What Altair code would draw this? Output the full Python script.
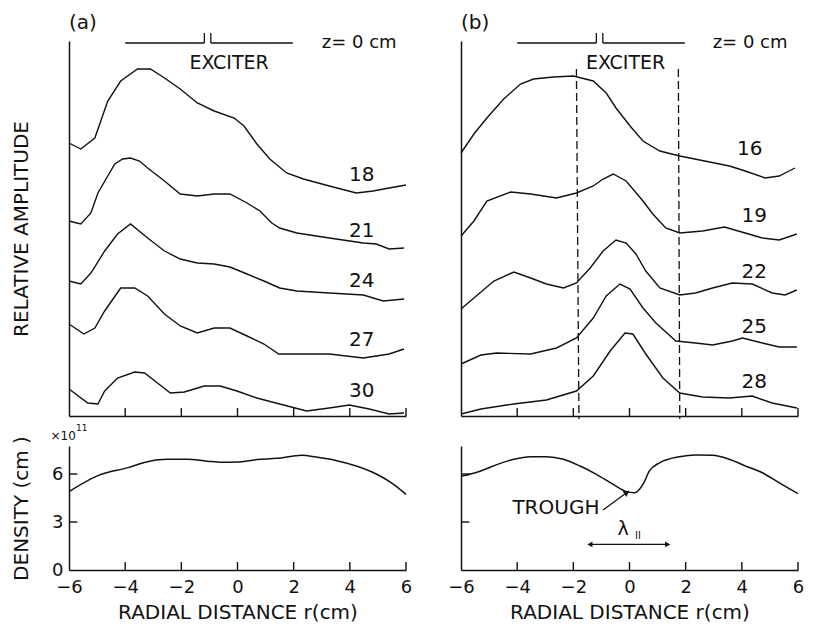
import altair as alt
import pandas as pd

FONT = "DejaVu Sans"
INK = "#111111"

R_MIN, R_MAX = -6, 6
AMP_MAX = 375      # relative amplitude, arbitrary units
DEN_MAX = 7.75     # density, 1e11 cm^-3
X_TICKS = [-6, -4, -2, 0, 2, 4, 6]
Y_TICKS_DEN = [0, 3, 6]

# ---------------- panel (a): amplitude traces ----------------
a_z = ["18", "21", "24", "27", "30"]
a18_r = [-6.00, -5.58, -5.08, -4.62, -4.16, -3.56, -3.10, -2.60, -2.04, -1.43, -0.83, -0.12, 0.23, 0.69, 1.15, 1.75, 2.35, 3.27, 4.23, 4.83, 5.40, 6.00]
a18_v = [273, 267, 278, 315, 335, 347, 347, 338, 327, 313, 305, 298, 290, 272, 257, 243, 237, 230, 223, 225, 228, 231]
a21_r = [-6.00, -5.58, -5.22, -4.97, -4.62, -4.37, -4.09, -3.81, -3.49, -3.20, -2.60, -2.04, -1.43, -0.83, -0.27, 0.34, 0.80, 1.22, 1.50, 2.11, 3.27, 4.48, 4.94, 5.40, 5.93]
a21_v = [195, 192, 203, 223, 240, 252, 257, 258, 255, 248, 235, 222, 220, 222, 222, 213, 205, 193, 188, 183, 178, 173, 172, 167, 168]
a24_r = [-6.00, -5.58, -5.22, -4.73, -4.27, -3.81, -3.20, -2.60, -2.04, -1.43, -0.83, -0.27, 0.34, 0.94, 1.50, 2.11, 3.27, 4.48, 5.19, 5.93]
a24_v = [135, 132, 143, 165, 182, 192, 178, 165, 157, 153, 152, 149, 142, 135, 128, 125, 123, 121, 115, 117]
a27_r = [-6.00, -5.47, -5.08, -4.73, -4.16, -3.66, -3.20, -2.60, -2.04, -1.43, -0.83, -0.27, 0.34, 0.94, 1.47, 2.11, 3.27, 4.48, 5.40, 5.93]
a27_v = [92, 82, 88, 105, 128, 128, 120, 102, 90, 83, 88, 88, 80, 72, 62, 62, 62, 58, 62, 67]
a30_r = [-6.00, -5.33, -4.97, -4.73, -4.27, -3.66, -3.31, -2.85, -2.39, -1.89, -1.19, -0.62, -0.02, 0.69, 1.50, 2.46, 3.27, 3.98, 4.69, 5.40, 5.93]
a30_v = [27, 13, 12, 25, 38, 44, 43, 33, 23, 24, 30, 30, 25, 18, 12, 5, 8, 11, 7, 2, 3]
a_label_r = [4.42, 4.42, 4.42, 4.42, 4.42]
a_label_v = [241, 185, 135, 76, 25]

# ---------------- panel (b): amplitude traces ----------------
b_z = ["16", "19", "22", "25", "28"]
b16_r = [-6.00, -5.54, -5.08, -4.48, -3.88, -3.42, -2.71, -2.00, -1.29, -0.83, -0.48, 0.02, 0.48, 1.08, 1.79, 2.50, 3.56, 4.12, 4.83, 5.33, 5.89]
b16_v = [263, 282, 298, 317, 332, 337, 339, 340, 335, 323, 308, 290, 275, 265, 260, 256, 250, 245, 238, 240, 248]
b19_r = [-6.00, -5.54, -5.08, -4.23, -3.52, -2.60, -1.89, -1.29, -0.94, -0.58, -0.12, 0.48, 0.83, 1.29, 1.79, 2.60, 3.38, 4.12, 4.73, 5.33, 5.96]
b19_v = [180, 195, 215, 224, 222, 218, 223, 230, 237, 242, 235, 215, 202, 188, 183, 185, 189, 183, 178, 176, 182]
b22_r = [-6.00, -5.54, -4.83, -4.12, -3.52, -2.96, -2.35, -1.89, -1.40, -0.94, -0.48, -0.12, 0.23, 0.58, 1.08, 1.79, 2.35, 2.96, 3.66, 4.37, 5.08, 5.54, 5.96]
b22_v = [107, 118, 135, 144, 138, 132, 128, 133, 148, 165, 176, 173, 162, 145, 128, 121, 123, 128, 133, 132, 123, 121, 126]
b25_r = [-6.00, -5.29, -4.73, -3.52, -2.60, -1.89, -1.29, -0.83, -0.34, 0.02, 0.48, 0.94, 1.65, 2.35, 2.96, 3.66, 4.02, 4.73, 5.33, 5.96]
b25_v = [52, 61, 63, 62, 68, 78, 98, 120, 132, 127, 108, 93, 75, 73, 71, 75, 78, 73, 69, 69]
b28_r = [-6.00, -5.29, -4.12, -2.96, -1.89, -1.29, -0.69, -0.16, 0.12, 0.58, 1.19, 1.79, 2.60, 3.56, 4.37, 5.08, 5.96]
b28_v = [2, 7, 12, 16, 25, 40, 65, 83, 82, 62, 38, 23, 19, 18, 20, 13, 8]
b_label_r = [4.28, 4.44, 4.44, 4.44, 4.44]
b_label_v = [267, 200, 144, 89, 34]

# ---------------- density profiles ----------------
a_den_r = [-6.0, -4.97, -3.9, -3.2, -2.5, -1.8, -1.08, -0.55, 0.0, 0.7, 1.4, 2.3, 2.8, 3.5, 4.23, 4.94, 5.47, 6.0]
a_den_v = [4.9, 5.9, 6.4, 6.77, 6.92, 6.92, 6.8, 6.73, 6.75, 6.9, 6.98, 7.17, 7.06, 6.85, 6.5, 6.0, 5.46, 4.73]
b_den_r = [-6.0, -5.3, -4.7, -4.12, -3.53, -2.95, -2.35, -1.76, -1.18, -0.58, -0.11, 0.18, 0.48, 0.71, 1.07, 1.78, 2.36, 2.96, 3.55, 4.13, 4.73, 5.32, 6.0]
b_den_v = [5.85, 6.19, 6.6, 6.92, 7.08, 7.08, 6.92, 6.5, 5.98, 5.35, 4.9, 4.83, 5.35, 6.19, 6.7, 7.08, 7.19, 7.17, 6.92, 6.5, 6.08, 5.46, 4.77]

# ---------------- annotations (data coordinates) ----------------
EXCITER_R = [-4.0, -1.18, -0.95, 1.97]       # bracket edges / notch
EXCITER_V = [373, 383]                        # bracket level, notch top
DASH_R_TOP = [-1.89, 1.74]
DASH_R_BOT = [-1.80, 1.79]
DASH_V = [347, -3]
TROUGH_ARROW = [-0.94, 3.75, -0.12, 4.81]
LAMBDA_ARROW = [-1.41, 1.36, 1.6]

PANEL_W = 337


def make_df(rs, vs, labels):
    rows = []
    for r_list, v_list, lab in zip(rs, vs, labels):
        for r, v in zip(r_list, v_list):
            rows.append({"r": r, "v": v, "z": lab})
    return pd.DataFrame(rows)


def X(axis):
    return alt.X("r:Q", scale=alt.Scale(domain=[R_MIN, R_MAX], nice=False, zero=False), axis=axis)


def Y(domain, axis):
    return alt.Y("v:Q", scale=alt.Scale(domain=domain, nice=False, zero=False), axis=axis)


TOP_X_AXIS = alt.Axis(labels=False, ticks=False, title=None, grid=False, domain=True)
BOT_X_AXIS = alt.Axis(values=X_TICKS, ticks=False, grid=False, labelPadding=8, labelFlush=False,
                      title="RADIAL DISTANCE r(cm)", titlePadding=6)


def top_panel(traces_r, traces_v, zs, lab_r, lab_v, tag, exc_r, zt_r, title, dashed):
    yaxis = alt.Axis(labels=False, ticks=False, grid=False, domain=True,
                     title=title, titlePadding=38) if title else \
        alt.Axis(labels=False, ticks=False, grid=False, domain=True, title=None)
    xx = X(TOP_X_AXIS)
    yy = Y([0, AMP_MAX], yaxis)
    df = make_df(traces_r, traces_v, zs)
    lines = alt.Chart(df).mark_line(color=INK, strokeWidth=1.4).encode(
        x=xx, y=yy, detail="z:N")
    tick_df = pd.DataFrame({"r": X_TICKS[1:], "v": [0] * 6, "v2": [8] * 6})
    ticks = alt.Chart(tick_df).mark_rule(color=INK, strokeWidth=1.4).encode(
        x=xx, y=yy, y2="v2")
    e = EXCITER_R
    lo, hi = EXCITER_V
    br_df = pd.DataFrame({"r": [e[0], e[1], e[2], e[2]], "r2": [e[1], e[1], e[2], e[3]],
                          "v": [lo, lo, hi, lo], "v2": [lo, hi, lo, lo]})
    bracket = alt.Chart(br_df).mark_rule(color=INK, strokeWidth=1.3).encode(
        x=xx, x2="r2", y=yy, y2="v2")
    lab_df = pd.DataFrame({"r": lab_r, "v": lab_v, "t": zs})
    labels = alt.Chart(lab_df).mark_text(font=FONT, fontSize=20, color=INK).encode(
        x=xx, y=yy, text="t")
    exc = alt.Chart(pd.DataFrame({"r": [exc_r], "v": [353], "t": ["EXCITER"]})).mark_text(
        font=FONT, fontSize=19, color=INK).encode(x=xx, y=yy, text="t")
    zt = alt.Chart(pd.DataFrame({"r": [zt_r], "v": [373], "t": ["z= 0 cm"]})).mark_text(
        font=FONT, fontSize=18, color=INK, align="left").encode(x=xx, y=yy, text="t")
    tg = alt.Chart(pd.DataFrame({"r": [-6.0], "v": [393], "t": [tag]})).mark_text(
        font=FONT, fontSize=20, color=INK, align="left").encode(x=xx, y=yy, text="t")
    layers = [lines, ticks, bracket, labels, exc, zt, tg]
    if dashed:
        d_df = pd.DataFrame({"r": DASH_R_TOP, "r2": DASH_R_BOT,
                             "v": [DASH_V[0]] * 2, "v2": [DASH_V[1]] * 2})
        layers.append(alt.Chart(d_df).mark_rule(color=INK, strokeWidth=1.3, strokeDash=[8, 4]).encode(
            x=xx, x2="r2", y=yy, y2="v2"))
    return alt.layer(*layers).properties(width=PANEL_W, height=375)


def bottom_panel(den_r, den_v, left, trough):
    if left:
        yaxis = alt.Axis(values=Y_TICKS_DEN, ticks=False, grid=False, labelPadding=6,
                         title="DENSITY (cm )", titlePadding=20)
    else:
        yaxis = alt.Axis(labels=False, ticks=False, grid=False, title=None)
    xx = X(BOT_X_AXIS)
    yy = Y([0, DEN_MAX], yaxis)
    df = pd.DataFrame({"r": den_r, "v": den_v})
    line = alt.Chart(df).mark_line(color=INK, strokeWidth=1.5, interpolate="monotone").encode(x=xx, y=yy)
    tick_df = pd.DataFrame({"r": X_TICKS[1:], "v": [0] * 6, "v2": [0.5] * 6})
    ticks = alt.Chart(tick_df).mark_rule(color=INK, strokeWidth=1.4).encode(x=xx, y=yy, y2="v2")
    ytick_df = pd.DataFrame({"r": [-6, -6], "r2": [-5.7, -5.7], "v": [3, 6]})
    yticks = alt.Chart(ytick_df).mark_rule(color=INK, strokeWidth=1.4).encode(x=xx, x2="r2", y=yy)
    layers = [line, ticks, yticks]
    if left:
        layers.append(alt.Chart(pd.DataFrame({"r": [-6.21], "v": [8.4], "t": ["×10"]})).mark_text(
            font=FONT, fontSize=12, color=INK).encode(x=xx, y=yy, text="t"))
        layers.append(alt.Chart(pd.DataFrame({"r": [-5.55], "v": [8.85], "t": ["11"]})).mark_text(
            font=FONT, fontSize=9, color=INK).encode(x=xx, y=yy, text="t"))
    if trough:
        x0, y0, x1, y1 = TROUGH_ARROW
        layers.append(alt.Chart(pd.DataFrame({"r": [-2.62], "v": [3.88], "t": ["TROUGH"]})).mark_text(
            font=FONT, fontSize=20, color=INK).encode(x=xx, y=yy, text="t"))
        layers.append(alt.Chart(pd.DataFrame({"r": [x0], "r2": [x1], "v": [y0], "v2": [y1]})).mark_rule(
            color=INK, strokeWidth=1.3).encode(x=xx, x2="r2", y=yy, y2="v2"))
        layers.append(alt.Chart(pd.DataFrame({"r": [x1], "v": [y1]})).mark_point(
            shape="triangle", filled=True, size=45, angle=54, color=INK, opacity=1).encode(x=xx, y=yy))
        la, lb, lv = LAMBDA_ARROW
        layers.append(alt.Chart(pd.DataFrame({"r": [la], "r2": [lb], "v": [lv]})).mark_rule(
            color=INK, strokeWidth=1.3).encode(x=xx, x2="r2", y=yy))
        layers.append(alt.Chart(pd.DataFrame({"r": [la], "v": [lv]})).mark_point(
            shape="triangle-left", filled=True, size=35, color=INK, opacity=1).encode(x=xx, y=yy))
        layers.append(alt.Chart(pd.DataFrame({"r": [lb], "v": [lv]})).mark_point(
            shape="triangle-right", filled=True, size=35, color=INK, opacity=1).encode(x=xx, y=yy))
        layers.append(alt.Chart(pd.DataFrame({"r": [-0.23], "v": [2.56], "t": ["λ"]})).mark_text(
            font=FONT, fontSize=19, color=INK).encode(x=xx, y=yy, text="t"))
        layers.append(alt.Chart(pd.DataFrame({"r": [0.3], "v": [2.12], "t": ["II"]})).mark_text(
            font=FONT, fontSize=10, color=INK).encode(x=xx, y=yy, text="t"))
    return alt.layer(*layers).properties(width=PANEL_W, height=124)


top_a = top_panel([a18_r, a21_r, a24_r, a27_r, a30_r], [a18_v, a21_v, a24_v, a27_v, a30_v], a_z,
                  a_label_r, a_label_v, "(a)", -0.3, 3.0, "RELATIVE AMPLITUDE", False)
top_b = top_panel([b16_r, b19_r, b22_r, b25_r, b28_r], [b16_v, b19_v, b22_v, b25_v, b28_v], b_z,
                  b_label_r, b_label_v, "(b)", -0.14, 2.96, None, True)
bot_a = bottom_panel(a_den_r, a_den_v, True, False)
bot_b = bottom_panel(b_den_r, b_den_v, False, True)

chart = alt.concat(top_a, top_b, bot_a, bot_b, columns=2,
                   spacing={"row": 30, "column": 55}, bounds="flush").properties(
    padding={"left": 3, "top": 4, "right": 0, "bottom": 0}
).configure_view(stroke=None).configure_axis(
    domainColor=INK, domainWidth=1.5, labelColor=INK, titleColor=INK,
    labelFont=FONT, titleFont=FONT, labelFontSize=18, titleFontSize=20,
    titleFontWeight="normal", grid=False, ticks=False
)

chart.save("out.html", embed_options={"renderer": "svg", "actions": False})
